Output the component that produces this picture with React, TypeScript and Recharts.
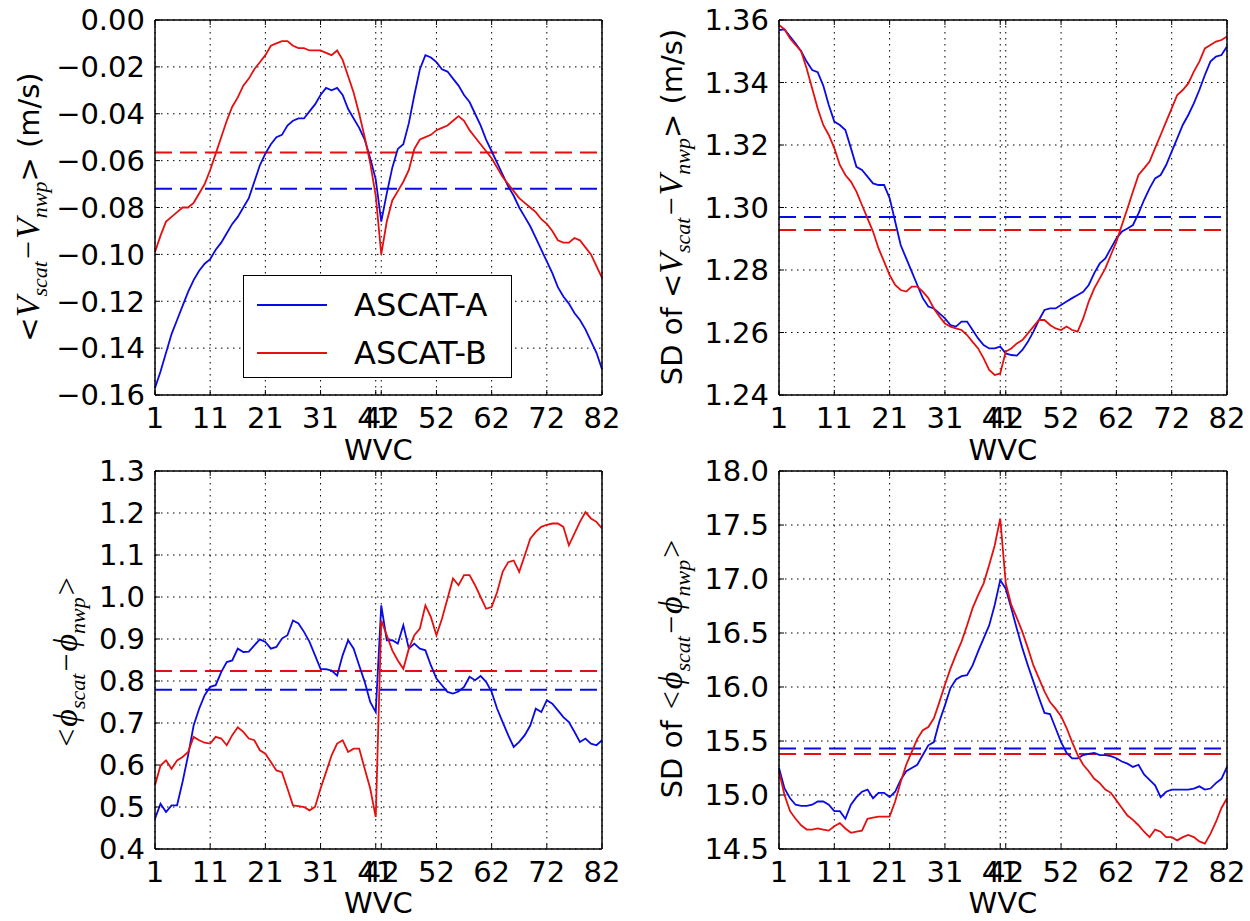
import React from "react";
import {
  CartesianGrid,
  Legend,
  Line,
  LineChart,
  ReferenceLine,
  XAxis,
  YAxis,
} from "recharts";

const BLUE = "#0a0ae6";
const RED = "#e60f0f";

const WVC_TICKS = [1, 11, 21, 31, 41, 42, 52, 62, 72, 82];

// top-left: mean speed bias
const SPD_BIAS_A = [
  -0.157, -0.15, -0.142, -0.134, -0.128, -0.122, -0.116, -0.111, -0.107, -0.104,
  -0.102, -0.098, -0.095, -0.091, -0.087, -0.084, -0.08, -0.076, -0.069, -0.062,
  -0.057, -0.053, -0.05, -0.049, -0.045, -0.043, -0.042, -0.042, -0.039, -0.036,
  -0.032, -0.029, -0.03, -0.029, -0.032, -0.038, -0.042, -0.046, -0.051, -0.059,
  -0.068, -0.086, -0.074, -0.063, -0.055, -0.053, -0.044, -0.032, -0.021, -0.015,
  -0.016, -0.018, -0.021, -0.022, -0.025, -0.028, -0.032, -0.035, -0.04, -0.045,
  -0.051, -0.056, -0.061, -0.066, -0.071, -0.075, -0.08, -0.084, -0.088, -0.093,
  -0.098, -0.103, -0.108, -0.114, -0.118, -0.121, -0.125, -0.128, -0.132, -0.137,
  -0.142, -0.149,
];
const SPD_BIAS_B = [
  -0.099, -0.092, -0.086, -0.084, -0.082, -0.08, -0.08, -0.078, -0.074, -0.07,
  -0.064, -0.057, -0.05, -0.043, -0.037, -0.033, -0.028, -0.025, -0.021, -0.018,
  -0.015, -0.011, -0.01, -0.009, -0.009, -0.011, -0.012, -0.012, -0.013, -0.013,
  -0.013, -0.014, -0.015, -0.013, -0.017, -0.024, -0.031, -0.04, -0.05, -0.061,
  -0.075, -0.1, -0.086, -0.077, -0.073, -0.069, -0.064, -0.055, -0.051, -0.05,
  -0.049, -0.047, -0.046, -0.045, -0.043, -0.041, -0.043, -0.047, -0.05, -0.053,
  -0.056, -0.059, -0.063, -0.067, -0.07, -0.073, -0.076, -0.078, -0.08, -0.082,
  -0.085, -0.087, -0.09, -0.094, -0.095, -0.095, -0.093, -0.094, -0.097, -0.1,
  -0.105, -0.11,
];

// top-right: SD of speed difference
const SPD_SD_A = [
  1.3568, 1.357, 1.3547, 1.3525, 1.35, 1.3467, 1.344, 1.3433, 1.339, 1.3328,
  1.3275, 1.3264, 1.3248, 1.319, 1.313, 1.312, 1.3099, 1.3077, 1.3072, 1.3072,
  1.303, 1.2955, 1.288, 1.2837, 1.2795, 1.2752, 1.271, 1.2683, 1.2677, 1.2661,
  1.2645, 1.2624, 1.2619, 1.2635, 1.2635, 1.2608, 1.2581, 1.256, 1.2549, 1.2549,
  1.2555, 1.2533, 1.2528, 1.2526, 1.2544, 1.257, 1.2603, 1.264, 1.2672, 1.2677,
  1.2677, 1.2688, 1.2699, 1.271, 1.272, 1.273, 1.2752, 1.279, 1.2821, 1.2837,
  1.2869, 1.2901, 1.2923, 1.2933, 1.2944, 1.2981, 1.3024, 1.3061, 1.3093, 1.3104,
  1.3136, 1.3179, 1.3221, 1.3264, 1.3296, 1.3333, 1.3376, 1.3424, 1.3467, 1.3483,
  1.3488, 1.3515,
];
const SPD_SD_B = [
  1.3584, 1.357, 1.3541, 1.352, 1.35, 1.3445, 1.3381, 1.3317, 1.3264, 1.3232,
  1.319, 1.3136, 1.3104, 1.3083, 1.3051, 1.3008, 1.2965, 1.2923, 1.2869, 1.2827,
  1.2784, 1.2752, 1.2736, 1.2731, 1.2747, 1.2747, 1.2731, 1.271, 1.2677, 1.2651,
  1.2629, 1.2619, 1.2613, 1.2608, 1.2592, 1.257, 1.2549, 1.2517, 1.248, 1.2464,
  1.2469, 1.2539, 1.2549, 1.2565, 1.2576, 1.2597, 1.2619, 1.264, 1.264, 1.2624,
  1.2613, 1.2608, 1.2619, 1.2608, 1.2603, 1.2645, 1.2699, 1.2741, 1.2773, 1.2805,
  1.2848, 1.2891, 1.2944, 1.2997, 1.3051, 1.3104, 1.3125, 1.3147, 1.319, 1.3232,
  1.3275, 1.3317, 1.336, 1.3376, 1.3397, 1.3435, 1.3467, 1.3509, 1.352, 1.3531,
  1.3536, 1.3547,
];

// bottom-left: mean direction bias
const DIR_BIAS_A = [
  0.472, 0.508, 0.488, 0.504, 0.504, 0.56, 0.623, 0.694, 0.734, 0.766,
  0.786, 0.79, 0.821, 0.845, 0.849, 0.877, 0.869, 0.87, 0.885, 0.899,
  0.893, 0.877, 0.881, 0.901, 0.909, 0.944, 0.937, 0.917, 0.893, 0.861,
  0.829, 0.828, 0.825, 0.813, 0.861, 0.897, 0.877, 0.837, 0.798, 0.75,
  0.726, 0.98, 0.897, 0.897, 0.889, 0.933, 0.877, 0.889, 0.877, 0.873,
  0.837, 0.806, 0.79, 0.774, 0.77, 0.775, 0.786, 0.81, 0.802, 0.812,
  0.798, 0.774, 0.734, 0.702, 0.671, 0.643, 0.655, 0.671, 0.694, 0.734,
  0.726, 0.754, 0.746, 0.73, 0.714, 0.702, 0.679, 0.655, 0.663, 0.651,
  0.647, 0.659,
];
const DIR_BIAS_B = [
  0.552, 0.599, 0.611, 0.591, 0.611, 0.619, 0.631, 0.667, 0.659, 0.653,
  0.651, 0.667, 0.663, 0.647, 0.671, 0.69, 0.679, 0.663, 0.659, 0.635,
  0.627, 0.607, 0.587, 0.583, 0.544, 0.504, 0.502, 0.5, 0.492, 0.5,
  0.544, 0.583, 0.623, 0.651, 0.659, 0.631, 0.639, 0.639, 0.591, 0.544,
  0.476, 0.944, 0.909, 0.873, 0.849, 0.829, 0.877, 0.909, 0.925, 0.98,
  0.952, 0.909, 0.948, 0.996, 1.044, 1.028, 1.052, 1.052, 1.028, 1.0,
  0.972, 0.976, 1.012, 1.06, 1.083, 1.087, 1.06, 1.099, 1.139, 1.155,
  1.167, 1.172, 1.175, 1.175, 1.167, 1.123, 1.151, 1.179, 1.202, 1.187,
  1.179, 1.163,
];

// bottom-right: SD of direction difference
const DIR_SD_A = [
  15.25, 15.06, 14.97, 14.91, 14.9, 14.9, 14.91, 14.94, 14.94, 14.91,
  14.85, 14.85, 14.78, 14.91, 14.98, 15.03, 15.05, 14.97, 15.02, 15.02,
  14.98, 15.03, 15.14, 15.22, 15.25, 15.28, 15.37, 15.46, 15.49, 15.68,
  15.83, 15.99, 16.07, 16.1, 16.11, 16.2, 16.33, 16.45, 16.57, 16.76,
  16.99, 16.91, 16.73, 16.54, 16.36, 16.2, 16.05, 15.9, 15.76, 15.75,
  15.62, 15.49, 15.39, 15.34, 15.34, 15.37, 15.38, 15.39, 15.37, 15.37,
  15.36, 15.34, 15.31, 15.29, 15.26, 15.28, 15.19, 15.14, 15.09, 14.98,
  15.03, 15.05, 15.05, 15.05, 15.05, 15.06, 15.08, 15.05, 15.06, 15.11,
  15.15, 15.26,
];
const DIR_SD_B = [
  15.22, 15.0, 14.85, 14.78, 14.72, 14.68, 14.68, 14.69, 14.68, 14.67,
  14.71, 14.74, 14.69, 14.65, 14.66, 14.67, 14.78, 14.79, 14.8, 14.8,
  14.8, 14.94, 15.12, 15.28, 15.4, 15.52, 15.6, 15.63, 15.71, 15.86,
  16.02, 16.17, 16.3, 16.42, 16.57, 16.73, 16.85, 16.96, 17.13, 17.31,
  17.56, 16.96, 16.76, 16.64, 16.51, 16.36, 16.2, 16.08, 15.96, 15.86,
  15.8, 15.73, 15.62, 15.49, 15.37, 15.28, 15.22, 15.15, 15.11, 15.05,
  15.02, 14.95, 14.88, 14.81, 14.77, 14.72, 14.66, 14.61, 14.68, 14.66,
  14.61, 14.61, 14.58, 14.61, 14.63, 14.61, 14.57, 14.55, 14.64, 14.75,
  14.88, 14.97,
];

const SPD_BIAS_TICKS = [-0.16, -0.14, -0.12, -0.1, -0.08, -0.06, -0.04, -0.02, 0];
const SPD_SD_TICKS = [1.24, 1.26, 1.28, 1.3, 1.32, 1.34, 1.36];
const DIR_BIAS_TICKS = [0.4, 0.5, 0.6, 0.7, 0.8, 0.9, 1.0, 1.1, 1.2, 1.3];
const DIR_SD_TICKS = [14.5, 15.0, 15.5, 16.0, 16.5, 17.0, 17.5, 18.0];

// overall means (dashed lines)
const MEANS = {
  spdBias: [-0.072, -0.0565],
  spdSd: [1.297, 1.2928],
  dirBias: [0.779, 0.824],
  dirSd: [15.43, 15.38],
};

const toRows = (a: number[], b: number[]) =>
  a.map((v, i) => ({ wvc: i + 1, a: v, b: b[i] }));

const SANS = '"DejaVu Sans", sans-serif';
const MATH = '"Liberation Serif", "DejaVu Serif", serif';

const M = ({ children }: { children: React.ReactNode }) => (
  <span style={{ fontFamily: MATH, fontStyle: "italic", fontSize: 34 }}>{children}</span>
);
const Sub = ({ children }: { children: React.ReactNode }) => (
  <span
    style={{
      fontFamily: MATH,
      fontStyle: "italic",
      fontSize: 22,
      position: "relative",
      top: 8,
    }}
  >
    {children}
  </span>
);
const Op = ({ children }: { children: React.ReactNode }) => (
  <span style={{ fontFamily: MATH, fontSize: 32, padding: "0 2px" }}>{children}</span>
);

function RotLabel({ x, y, children }: { x: number; y: number; children: React.ReactNode }) {
  return (
    <div
      style={{
        position: "absolute",
        left: x,
        top: y,
        transform: "translate(-50%, -50%) rotate(-90deg)",
        whiteSpace: "nowrap",
        fontFamily: SANS,
        fontSize: 29,
        lineHeight: "36px",
        color: "#000",
      }}
    >
      {children}
    </div>
  );
}

const spdExpr = (
  <>
    {"<"}
    <M>V</M>
    <Sub>scat</Sub>
    <Op>{"\u2212"}</Op>
    <M>V</M>
    <Sub>nwp</Sub>
    {"> (m/s)"}
  </>
);
const dirExpr = (
  <>
    <Op>{"<"}</Op>
    <M>{"\u03d5"}</M>
    <Sub>scat</Sub>
    <Op>{"\u2212"}</Op>
    <M>{"\u03d5"}</M>
    <Sub>nwp</Sub>
    <Op>{">"}</Op>
  </>
);

function LegendBox() {
  const items = [
    { name: "ASCAT-A", color: BLUE },
    { name: "ASCAT-B", color: RED },
  ];
  return (
    <div
      style={{
        width: 269,
        height: 103,
        boxSizing: "border-box",
        border: "1.5px solid #000",
        background: "#fff",
        position: "relative",
        fontFamily: SANS,
      }}
    >
      {items.map((it, i) => (
        <div
          key={it.name}
          style={{
            position: "absolute",
            left: 13,
            top: 29 + i * 48 - 18,
            height: 36,
            display: "flex",
            alignItems: "center",
          }}
        >
          <svg width={70} height={4}>
            <line x1={0} y1={2} x2={70} y2={2} stroke={it.color} strokeWidth={1.8} />
          </svg>
          <span style={{ marginLeft: 27, fontSize: 32, color: "#000" }}>{it.name}</span>
        </div>
      ))}
    </div>
  );
}

type PanelProps = {
  left: number;
  top: number;
  width: number;
  height: number;
  margin: { top: number; right: number; bottom: number; left: number };
  yWidth: number;
  xHeight: number;
  labelOffset: number;
  a: number[];
  b: number[];
  means: number[];
  yTicks: number[];
  digits: number;
  legend?: boolean;
};

function Panel(p: PanelProps) {
  const data = toRows(p.a, p.b);
  const domain: [number, number] = [p.yTicks[0], p.yTicks[p.yTicks.length - 1]];
  const axisLine = { stroke: "#000", strokeWidth: 1.5 };
  const tickLine = { stroke: "#000", strokeWidth: 1 };
  const fmt = (v: number) => v.toFixed(p.digits).replace("-", "\u2212");
  return (
    <div style={{ position: "absolute", left: p.left, top: p.top }}>
      <LineChart width={p.width} height={p.height} data={data} margin={p.margin}>
        <CartesianGrid stroke="#000" strokeDasharray="1.5 4.5" strokeWidth={1} />
        <XAxis
          dataKey="wvc"
          type="number"
          domain={[1, 82]}
          ticks={WVC_TICKS}
          interval={0}
          height={p.xHeight}
          tickSize={-5}
          tickMargin={17}
          axisLine={axisLine}
          tickLine={tickLine}
          tick={{ fontSize: 29, fill: "#000", fontFamily: SANS }}
          label={{
            value: "WVC",
            position: "insideBottom",
            offset: p.labelOffset,
            fontSize: 29,
            fill: "#000",
            fontFamily: SANS,
          }}
        />
        <XAxis
          xAxisId="top"
          orientation="top"
          dataKey="wvc"
          type="number"
          domain={[1, 82]}
          ticks={WVC_TICKS}
          interval={0}
          height={1}
          tickSize={-5}
          axisLine={axisLine}
          tickLine={tickLine}
          tickFormatter={() => ""}
        />
        <YAxis
          type="number"
          domain={domain}
          ticks={p.yTicks}
          interval={0}
          width={p.yWidth}
          tickSize={-5}
          tickMargin={15}
          axisLine={axisLine}
          tickLine={tickLine}
          tickFormatter={fmt}
          tick={{ fontSize: 29, fill: "#000", fontFamily: SANS }}
        />
        <YAxis
          yAxisId="right"
          orientation="right"
          type="number"
          domain={domain}
          ticks={p.yTicks}
          interval={0}
          width={1}
          tickSize={-5}
          axisLine={axisLine}
          tickLine={tickLine}
          tickFormatter={() => ""}
        />
        <ReferenceLine y={p.means[0]} stroke={BLUE} strokeWidth={2} strokeDasharray="17 8" />
        <ReferenceLine y={p.means[1]} stroke={RED} strokeWidth={2} strokeDasharray="17 8" />
        <Line
          type="linear"
          dataKey="a"
          name="ASCAT-A"
          stroke={BLUE}
          strokeWidth={1.8}
          dot={false}
          isAnimationActive={false}
        />
        <Line
          type="linear"
          dataKey="b"
          name="ASCAT-B"
          stroke={RED}
          strokeWidth={1.8}
          dot={false}
          isAnimationActive={false}
        />
        {p.legend && (
          <Legend
            layout="horizontal"
            verticalAlign="middle"
            align="center"
            content={() => <LegendBox />}
            wrapperStyle={{ left: 243, top: 275, width: 269, height: 103 }}
          />
        )}
      </LineChart>
    </div>
  );
}

export default function App() {
  return (
    <div
      style={{
        position: "absolute",
        left: 0,
        top: 0,
        width: 1250,
        height: 921,
        background: "#fff",
        overflow: "hidden",
        fontFamily: SANS,
      }}
    >
      <Panel
        left={0}
        top={0}
        width={625}
        height={470}
        margin={{ top: 19, right: 22, bottom: 0, left: 0 }}
        yWidth={155}
        xHeight={75}
        labelOffset={10}
        a={SPD_BIAS_A}
        b={SPD_BIAS_B}
        means={MEANS.spdBias}
        yTicks={SPD_BIAS_TICKS}
        digits={2}
        legend
      />
      <Panel
        left={625}
        top={0}
        width={625}
        height={470}
        margin={{ top: 19, right: 22, bottom: 0, left: 0 }}
        yWidth={154}
        xHeight={75}
        labelOffset={10}
        a={SPD_SD_A}
        b={SPD_SD_B}
        means={MEANS.spdSd}
        yTicks={SPD_SD_TICKS}
        digits={2}
      />
      <Panel
        left={0}
        top={448}
        width={625}
        height={473}
        margin={{ top: 22, right: 22, bottom: 0, left: 0 }}
        yWidth={155}
        xHeight={72}
        labelOffset={8}
        a={DIR_BIAS_A}
        b={DIR_BIAS_B}
        means={MEANS.dirBias}
        yTicks={DIR_BIAS_TICKS}
        digits={1}
      />
      <Panel
        left={625}
        top={448}
        width={625}
        height={473}
        margin={{ top: 22, right: 22, bottom: 0, left: 0 }}
        yWidth={154}
        xHeight={72}
        labelOffset={8}
        a={DIR_SD_A}
        b={DIR_SD_B}
        means={MEANS.dirSd}
        yTicks={DIR_SD_TICKS}
        digits={1}
      />
      <RotLabel x={30} y={207}>{spdExpr}</RotLabel>
      <RotLabel x={673} y={207}>
        {"SD of "}
        {spdExpr}
      </RotLabel>
      <RotLabel x={68} y={662}>{dirExpr}</RotLabel>
      <RotLabel x={673} y={668}>
        {"SD of "}
        {dirExpr}
      </RotLabel>
    </div>
  );
}
